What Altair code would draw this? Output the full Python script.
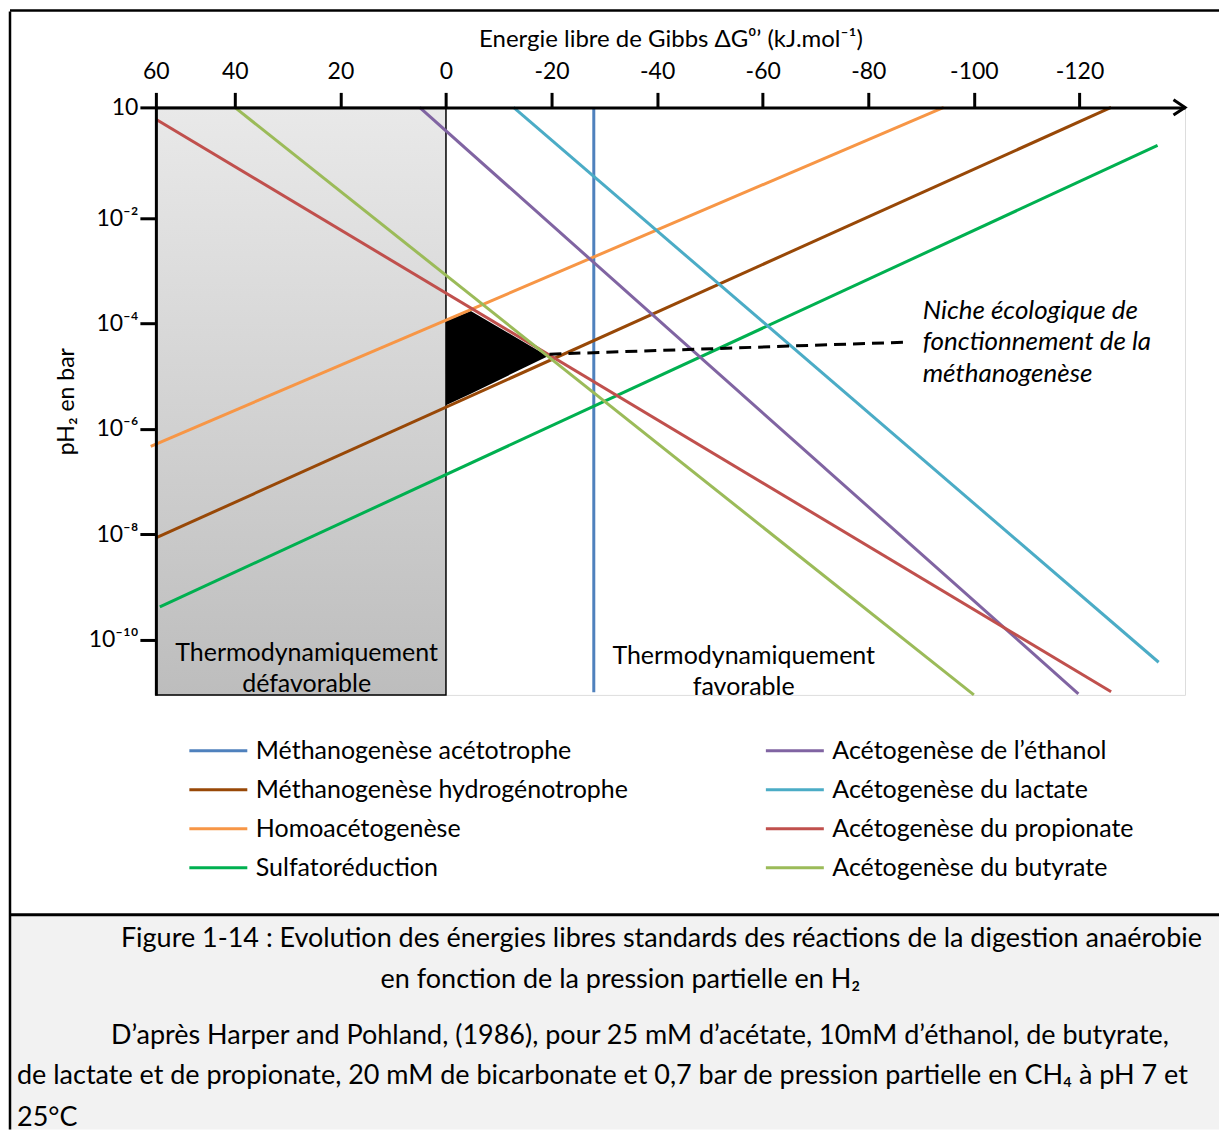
import math
import altair as alt
import pandas as pd

# ---------------- data ----------------
SERIES = [
    "Méthanogenèse acétotrophe",
    "Méthanogenèse hydrogénotrophe",
    "Homoacétogenèse",
    "Sulfatoréduction",
    "Acétogenèse de l’éthanol",
    "Acétogenèse du lactate",
    "Acétogenèse du propionate",
    "Acétogenèse du butyrate",
]
COLORS = ["#4F81BD", "#984807", "#F79646", "#00B050",
          "#8064A2", "#4BACC6", "#C0504D", "#9BBB59"]
# Gibbs free energy (kJ/mol) and log10(pH2 / bar) at both ends of each line
G_START = [-28.0, 60.0, 61.3, 59.0, 5.0, -12.8, 60.0, 40.0]
G_END = [-28.0, -126.0, -94.3, -134.8, -119.8, -135.0, -126.0, -100.0]
LOGP_START = [1.0, -8.07, -6.33, -9.38, 1.0, 1.0, 0.68, 1.0]
LOGP_END = [-11.0, 1.0, 1.0, -0.03, -11.03, -10.43, -10.99, -11.05]

# ecological niche of methanogenesis (black polygon)
NICHE_G = [0.0, -4.7, -19.3]
NICHE_LOGP_TOP = [-3.95, -3.76, -4.62]
NICHE_LOGP_BOTTOM = [-5.55, -5.33, -4.62]
POINTER_G = [-19.6, -87.8]
POINTER_LOGP = [-4.58, -4.35]
NICHE_LABEL = "Niche écologique de\nfonctionnement de la\nméthanogenèse"
NICHE_LABEL_G = -90.3
NICHE_LABEL_LOGP = -3.76

UNFAVOURABLE_G = [60.0, 0.0]
ZONE_LABELS = ["Thermodynamiquement\ndéfavorable", "Thermodynamiquement\nfavorable"]
ZONE_LABEL_G = [26.4, -56.4]
ZONE_LABEL_LOGP = [-10.25, -10.31]

X_TICKS = [60, 40, 20, 0, -20, -40, -60, -80, -100, -120]
X_DOMAIN = [60, 40, -140]
Y_TICKS = [10, 1e-2, 1e-4, 1e-6, 1e-8, 1e-10]
Y_TICK_LABELS = ["10", "10⁻²", "10⁻⁴", "10⁻⁶", "10⁻⁸", "10⁻¹⁰"]
Y_DOMAIN = [10, 1e-2, 10 ** -11.05]

X_TITLE = "Energie libre de Gibbs ΔG⁰’ (kJ.mol⁻¹)"
Y_TITLE = "pH₂  en bar"
CAPTION_TITLE = [
    "Figure 1-14 : Evolution des énergies libres standards des réactions de la digestion anaérobie",
    "en fonction de la pression partielle en H₂",
]
CAPTION_NOTE = [
    "D’après Harper and Pohland, (1986), pour 25 mM d’acétate, 10mM d’éthanol, de butyrate,",
    "de lactate et de propionate, 20 mM de bicarbonate et 0,7 bar de pression partielle en CH₄ à pH 7 et",
    "25°C",
]

# ---------------- tables ----------------
rows = []
for s, g0, g1, l0, l1 in zip(SERIES, G_START, G_END, LOGP_START, LOGP_END):
    rows.append({"series": s, "G": g0, "p": 10 ** l0, "o": 0})
    rows.append({"series": s, "G": g1, "p": 10 ** l1, "o": 1})
lines_df = pd.DataFrame(rows)

niche_df = pd.DataFrame({
    "G": NICHE_G,
    "top": [10 ** v for v in NICHE_LOGP_TOP],
    "bottom": [10 ** v for v in NICHE_LOGP_BOTTOM],
})
pointer_df = pd.DataFrame({"G": POINTER_G, "p": [10 ** v for v in POINTER_LOGP]})
zone_df = pd.DataFrame({"g1": [UNFAVOURABLE_G[0]], "g2": [UNFAVOURABLE_G[1]]})
zone_lab_df = pd.DataFrame({"G": ZONE_LABEL_G, "p": [10 ** v for v in ZONE_LABEL_LOGP], "t": ZONE_LABELS})
niche_lab_df = pd.DataFrame({"G": [NICHE_LABEL_G], "p": [10 ** NICHE_LABEL_LOGP], "t": [NICHE_LABEL]})
one = pd.DataFrame({"k": [0]})

# y label expression from the label arrays
y_expr = "''"
for v, lab in reversed(list(zip(Y_TICKS, Y_TICK_LABELS))):
    e = round(math.log10(v))
    y_expr = f"(round(log(datum.value)/LN10) == {e} ? '{lab}' : {y_expr})"

W, H = 1030, 588
FONT = "Lato"

x_scale = alt.Scale(domain=X_DOMAIN, range=[0, 79, W], nice=False, zero=False)
y_scale = alt.Scale(type="log", domain=Y_DOMAIN, range=[0, 111, H], nice=False)

x_enc = alt.X("G:Q", scale=x_scale,
              axis=alt.Axis(orient="top", values=X_TICKS, labelExpr="'' + datum.value",
                            title=X_TITLE, grid=False, domainWidth=3, domainColor="black",
                            tickWidth=3, tickColor="black", tickSize=15, labelFontSize=23,
                            labelColor="black", labelFont=FONT, labelPadding=9,
                            titleFont=FONT, titleFontSize=24, titleFontWeight="normal",
                            titleColor="black", titlePadding=9, zindex=1, labelFlush=False))
y_enc = alt.Y("p:Q", scale=y_scale,
              axis=alt.Axis(values=Y_TICKS, labelExpr=y_expr, title=Y_TITLE, grid=False,
                            domainWidth=3, domainColor="black", tickWidth=3, tickColor="black",
                            tickSize=16, labelFontSize=23, labelColor="black", labelFont=FONT,
                            labelPadding=2, titleFont=FONT, titleFontSize=23,
                            titleFontWeight="normal", titleColor="black", titlePadding=10,
                            zindex=1, labelFlush=False))

# frame and caption background
caption_bg = alt.Chart(one).mark_rect(fill="#F2F2F2").encode(
    x=alt.value(-146), x2=alt.value(1064), y=alt.value(808), y2=alt.value(1023))
frame_top = alt.Chart(one).mark_rule(color="black", strokeWidth=2.5).encode(
    x=alt.value(-146), x2=alt.value(1064), y=alt.value(-97))
frame_sep = alt.Chart(one).mark_rule(color="black", strokeWidth=3).encode(
    x=alt.value(-146), x2=alt.value(1064), y=alt.value(808))
frame_left = alt.Chart(one).mark_rule(color="black", strokeWidth=2.5).encode(
    x=alt.value(-146), y=alt.value(-96), y2=alt.value(1023))

grad = alt.Gradient(gradient="linear",
                    stops=[alt.GradientStop(color="#E9E9E9", offset=0),
                           alt.GradientStop(color="#BDBDBD", offset=1)],
                    x1=0, x2=0, y1=0, y2=1)
zone = alt.Chart(zone_df).mark_rect(fill=grad, stroke="black", strokeWidth=1.5).encode(
    x=alt.X("g1:Q", scale=x_scale), x2="g2:Q", y=alt.value(0), y2=alt.value(H))

niche = alt.Chart(niche_df).mark_area(color="black", opacity=1).encode(
    x=alt.X("G:Q", scale=x_scale), y=alt.Y("top:Q", scale=y_scale), y2="bottom:Q")

lines = alt.Chart(lines_df).mark_line(strokeWidth=3).encode(
    x=x_enc, y=y_enc, order="o:Q",
    color=alt.Color("series:N", scale=alt.Scale(domain=SERIES, range=COLORS),
                    legend=alt.Legend(title=None, orient="none", legendX=32, legendY=632,
                                      columns=2, symbolType="stroke", symbolSize=3364,
                                      symbolStrokeWidth=3, labelFontSize=25, labelFont=FONT,
                                      labelColor="black", labelOffset=7, clipHeight=24,
                                      rowPadding=14, columnPadding=136, gridAlign="all",
                                      padding=0, labelLimit=0)))

pointer = alt.Chart(pointer_df).mark_line(color="black", strokeWidth=3, strokeDash=[12, 7]).encode(
    x=alt.X("G:Q", scale=x_scale), y=alt.Y("p:Q", scale=y_scale))

zone_text = alt.Chart(zone_lab_df).mark_text(font=FONT, fontSize=25, lineBreak="\n", lineHeight=31,
                                             align="center", baseline="middle", color="black").encode(
    x=alt.X("G:Q", scale=x_scale), y=alt.Y("p:Q", scale=y_scale), text="t:N")
niche_text = alt.Chart(niche_lab_df).mark_text(font=FONT, fontSize=26, fontStyle="italic",
                                               lineBreak="\n", lineHeight=31.5, align="left",
                                               baseline="middle", color="black").encode(
    x=alt.X("G:Q", scale=x_scale), y=alt.Y("p:Q", scale=y_scale), text="t:N")

arrow = alt.Chart(one).mark_point(shape="M-1.5,-1L0,0L-1.5,1", filled=False, size=237,
                                  strokeWidth=3, color="black", opacity=1).encode(
    x=alt.value(W), y=alt.value(0))


def cap(text, x, y, align="left"):
    return alt.Chart(one).mark_text(font=FONT, fontSize=27, align=align, baseline="middle",
                                    color="black").encode(
        x=alt.value(x), y=alt.value(y), text=alt.value(text))


captions = [
    cap(CAPTION_TITLE[0], -35, 832),
    cap(CAPTION_TITLE[1], 465, 873, "center"),
    cap(CAPTION_NOTE[0], -45, 929),
    cap(CAPTION_NOTE[1], -139, 969),
    cap(CAPTION_NOTE[2], -139, 1011),
]

chart = alt.layer(caption_bg, frame_top, frame_sep, frame_left, zone, niche, lines, pointer,
                  zone_text, niche_text, arrow, *captions).properties(
    width=W, height=H, padding=0).configure_view(stroke="transparent").configure(font=FONT)

chart.save("out.html", embed_options={"renderer": "svg", "actions": False})
